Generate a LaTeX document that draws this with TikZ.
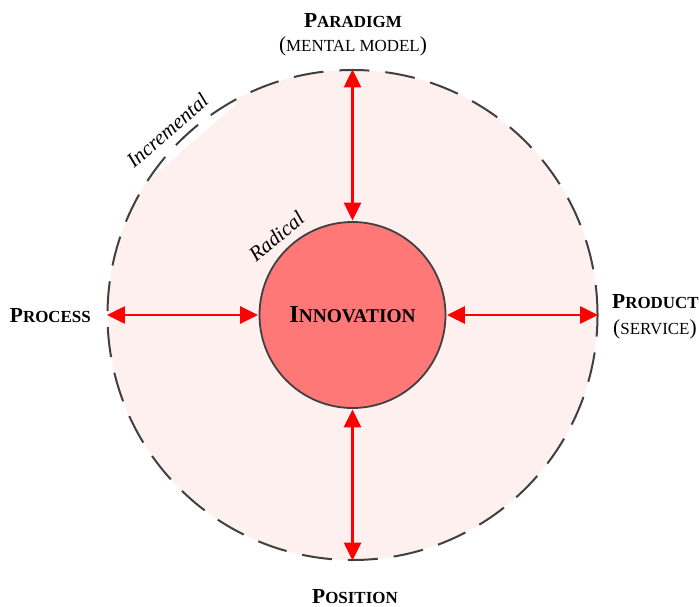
\documentclass[tikz,border=0pt]{standalone}
\usepackage{fontspec}
\setmainfont{Liberation Serif}
\usetikzlibrary{arrows.meta}
\definecolor{outerfill}{HTML}{FFF0F0}
\definecolor{innerfill}{HTML}{FF7878}
\definecolor{rimgray}{HTML}{404040}
% faked small caps: full-size capital followed by reduced capitals
\newcommand{\fullcap}[1]{{\fontsize{21.5}{26}\selectfont #1}}
\newcommand{\redcaps}[1]{{\fontsize{17}{26}\selectfont #1}}
\newcommand{\corecap}[1]{{\fontsize{24.5}{28}\selectfont #1}}
\newcommand{\corered}[1]{{\fontsize{19.5}{28}\selectfont #1}}
\tikzset{
  outerbg/.style={circle, fill=outerfill, minimum size=490bp, inner sep=0pt},
  outerrim/.style={circle, draw=rimgray, line width=2bp, dash pattern=on 30bp off 16bp, minimum size=490bp, inner sep=0pt},
  inner/.style={circle, draw=rimgray, line width=1.8bp, fill=innerfill, minimum size=186bp, inner sep=0pt, font=\bfseries},
  link/.style={red, line width=2.6bp, {Triangle[length=18bp,width=17bp]}-{Triangle[length=18bp,width=17bp]}, shorten <=0.5bp, shorten >=0.5bp},
  dim/.style={font=\bfseries, align=center, inner sep=0pt},
  sub/.style={align=center, inner sep=0pt},
  tag/.style={font=\fontsize{21}{24}\selectfont\itshape, inner sep=0pt}
}
\begin{document}
\begin{tikzpicture}[x=1bp,y=-1bp]
\useasboundingbox (0,0) rectangle (699,607);
% tinted ring area, the label band for "Incremental", then the dashed rim
\node[outerbg] (bigfill) at (352.5,315) {};
\node[tag, anchor=base, rotate=41, fill=white, text depth=15bp, inner xsep=20bp, inner ysep=3bp] (incr) at (172,136) {Incremental};
\node[outerrim] (big) at (352.5,315) {};
\node[inner] (core) at (352.5,315) {\corecap{I}\corered{NNOVATION}};

\draw[link] (big.north) -- (core.north);
\draw[link] (core.south) -- (big.south);
\draw[link] (big.west) -- (core.west);
\draw[link] (core.east) -- (big.east);

\node[dim, anchor=base] (paradigm) at (353,28) {\fullcap{P}\redcaps{ARADIGM}};
\node[sub, anchor=base] (paradigmsub) at (353,52) {\fullcap{(}\redcaps{MENTAL MODEL}\fullcap{)}};
\node[dim, anchor=base east] (process) at (91,322) {\fullcap{P}\redcaps{ROCESS}};
\node[dim, anchor=base west] (product) at (612,308) {\fullcap{P}\redcaps{RODUCT}};
\node[sub, anchor=base west] (productsub) at (613,334) {\fullcap{(}\redcaps{SERVICE}\fullcap{)}};
\node[dim, anchor=base] (position) at (355,603) {\fullcap{P}\redcaps{OSITION}};

\node[tag, anchor=base, rotate=40] (rad) at (281,242) {Radical};
\end{tikzpicture}
\end{document}
